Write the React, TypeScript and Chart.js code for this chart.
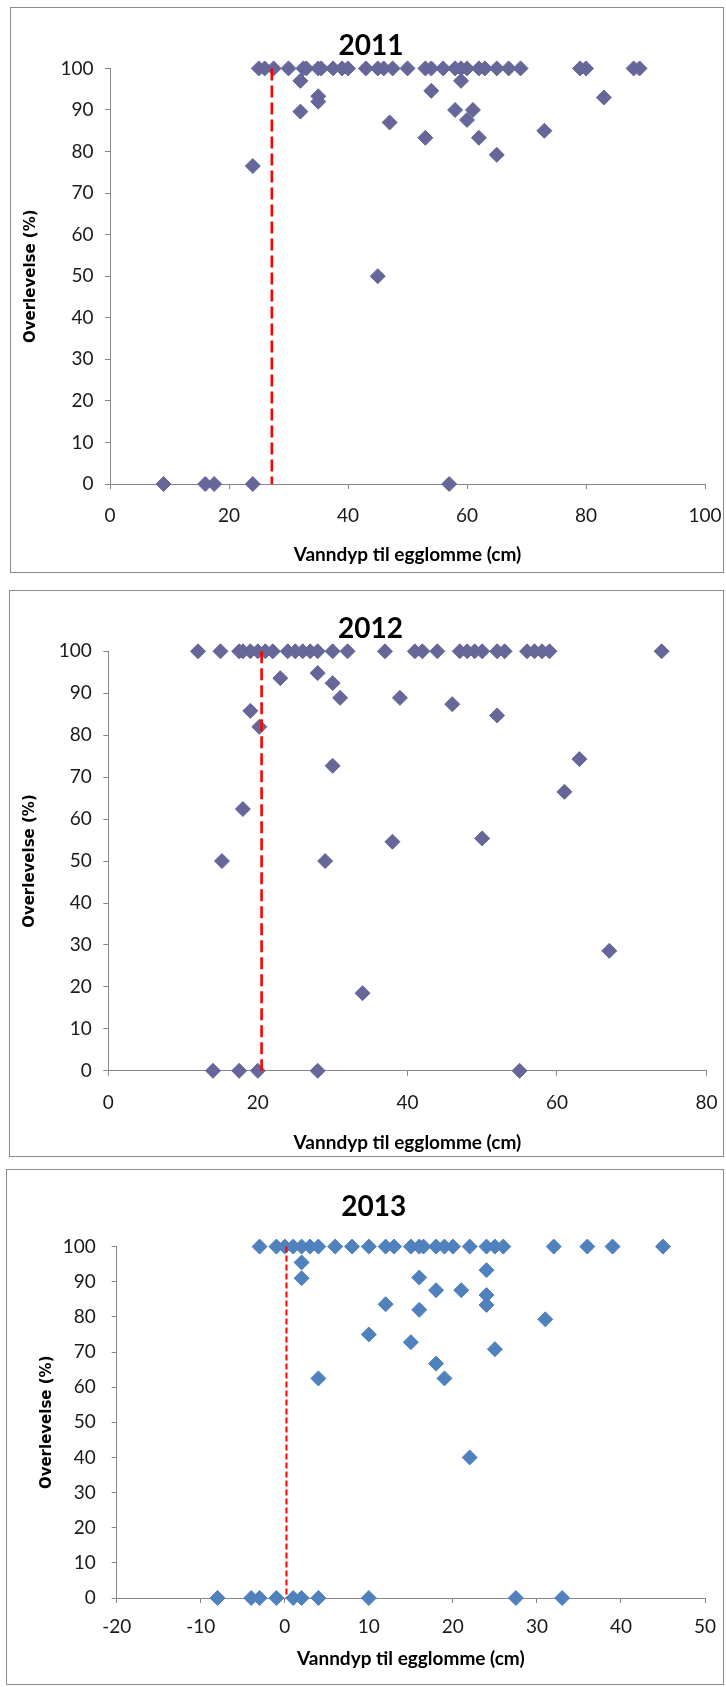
import React, { useEffect, useRef } from "react";
import { Chart, registerables } from "chart.js";

Chart.register(...registerables);

// ---------- DATA ----------
const depth2011 = [
  25, 26, 27.5, 30, 32.5, 33, 35, 35.5, 37.5, 39, 40, 43, 45, 46, 47.5, 50, 53, 54, 56, 58, 59, 60, 62, 63, 65, 67, 69, 79, 80, 88, 89,
  32, 35, 35, 32, 47, 24, 54, 59, 58, 61, 60, 53, 62, 65, 73, 83, 45,
  9, 16, 17.5, 24, 57,
];
const survival2011 = [
  100, 100, 100, 100, 100, 100, 100, 100, 100, 100, 100, 100, 100, 100, 100, 100, 100, 100, 100, 100, 100, 100, 100, 100, 100, 100, 100, 100, 100, 100, 100,
  97, 93.3, 92, 89.6, 87, 76.5, 94.6, 97, 90, 90, 87.6, 83.3, 83.3, 79.2, 85, 93, 50,
  0, 0, 0, 0, 0,
];

const depth2012 = [
  12, 15, 17.5, 18, 19, 20, 21, 22, 24, 25, 26, 27, 28, 30, 32, 37, 41, 42, 44, 47, 48, 49, 50, 52, 53, 56, 57, 58, 59, 74,
  23, 28, 30, 31, 39, 19, 20.2, 30, 18, 15.2, 29, 38, 46, 52, 63, 61, 50, 67, 34,
  14, 17.5, 20, 28, 55,
];
const survival2012 = [
  100, 100, 100, 100, 100, 100, 100, 100, 100, 100, 100, 100, 100, 100, 100, 100, 100, 100, 100, 100, 100, 100, 100, 100, 100, 100, 100, 100, 100, 100,
  93.6, 94.8, 92.4, 88.9, 88.9, 85.8, 82, 72.7, 62.4, 50, 50, 54.6, 87.4, 84.7, 74.3, 66.5, 55.4, 28.6, 18.5,
  0, 0, 0, 0, 0,
];

const depth2013 = [
  -3, -1, 0, 1, 2, 3, 4, 6, 8, 10, 12, 13, 15, 16, 16.5, 18, 19, 20, 22, 24, 25, 26, 32, 36, 39, 45,
  2, 2, 16, 18, 21, 12, 16, 10, 15, 18, 19, 4, 22, 24, 24, 24, 31, 25,
  -8, -4, -3, -1, 1, 2, 4, 10, 27.5, 33,
];
const survival2013 = [
  100, 100, 100, 100, 100, 100, 100, 100, 100, 100, 100, 100, 100, 100, 100, 100, 100, 100, 100, 100, 100, 100, 100, 100, 100, 100,
  95.5, 91, 91.2, 87.6, 87.6, 83.6, 82, 75, 72.8, 66.7, 62.5, 62.5, 40, 93.3, 86.2, 83.4, 79.3, 70.8,
  0, 0, 0, 0, 0, 0, 0, 0, 0, 0,
];

const cutoff2011 = 27.2;
const cutoff2012 = 20.5;
const cutoff2013 = 0.2;

const xAxis2011 = [0, 100, 20]; // min, max, step
const xAxis2012 = [0, 80, 20];
const xAxis2013 = [-20, 50, 10];
const yAxisRange = [0, 100, 10];

const xTitle = "Vanndyp til egglomme (cm)";
const yTitle = "Overlevelse (%)";

// ---------- LAYOUT ----------
type PanelCfg = {
  title: string;
  depth: number[];
  survival: number[];
  cutoff: number;
  xAxis: number[];
  color: string;
  dash: number[];
  dashWidth: number;
  box: { left: number; top: number; width: number; height: number };
  pl: number;
  pr: number;
  yScaleW: number;
  xScaleH: number;
  titlePadTop: number;
  titlePadBottom: number;
  yTitlePad: number;
  xTitlePad: number;
  xTickPad: number;
  yTickPad: number;
};

const panels: PanelCfg[] = [
  {
    title: "2011",
    depth: depth2011,
    survival: survival2011,
    cutoff: cutoff2011,
    xAxis: xAxis2011,
    color: "#666699",
    dash: [12, 5],
    dashWidth: 2.6,
    box: { left: 10, top: 7, width: 714, height: 566 },
    pl: 27,
    pr: 19,
    yScaleW: 73,
    xScaleH: 89,
    titlePadTop: 22,
    titlePadBottom: 5.8,
    yTitlePad: -15,
    xTitlePad: 6.6,
    xTickPad: 15.6,
    yTickPad: 11.5,
  },
  {
    title: "2012",
    depth: depth2012,
    survival: survival2012,
    cutoff: cutoff2012,
    xAxis: xAxis2012,
    color: "#666699",
    dash: [12, 5],
    dashWidth: 2.6,
    box: { left: 9, top: 590, width: 715, height: 567 },
    pl: 25.3,
    pr: 17.5,
    yScaleW: 74,
    xScaleH: 86.2,
    titlePadTop: 22.2,
    titlePadBottom: 5.5,
    yTitlePad: -13.6,
    xTitlePad: 2.6,
    xTickPad: 15.8,
    yTickPad: 11.6,
  },
  {
    title: "2013",
    depth: depth2013,
    survival: survival2013,
    cutoff: cutoff2013,
    xAxis: xAxis2013,
    color: "#4F81BD",
    dash: [6, 3],
    dashWidth: 2,
    box: { left: 6, top: 1169, width: 718, height: 516 },
    pl: 36.6,
    pr: 19,
    yScaleW: 74.1,
    xScaleH: 87,
    titlePadTop: 20.7,
    titlePadBottom: 23.3,
    yTitlePad: -4.3,
    xTitlePad: 15,
    xTickPad: 12.3,
    yTickPad: 15.9,
  },
];

const tickFont = { family: "Lato", size: 19, lineHeight: 1.2 };
const axisGrey = "#868686";

function Panel({ cfg }: { cfg: PanelCfg }) {
  const ref = useRef<HTMLCanvasElement>(null);
  useEffect(() => {
    if (!ref.current) return;
    const points = cfg.depth.map((x, i) => ({ x, y: cfg.survival[i] }));
    const chart = new Chart(ref.current, {
      type: "scatter",
      data: {
        datasets: [
          {
            data: [
              { x: cfg.cutoff, y: yAxisRange[1] },
              { x: cfg.cutoff, y: yAxisRange[0] },
            ],
            showLine: true,
            borderColor: "#FF0000",
            borderWidth: cfg.dashWidth,
            borderDash: cfg.dash,
            pointRadius: 0,
            fill: false,
            clip: false as any,
          } as any,
          {
            data: points,
            pointStyle: "rectRot",
            pointRadius: 7.5,
            pointHoverRadius: 7.5,
            backgroundColor: cfg.color,
            borderColor: cfg.color,
            borderWidth: 1,
            clip: false as any,
          } as any,
        ],
      },
      options: {
        responsive: false,
        maintainAspectRatio: false,
        animation: false,
        events: [],
        layout: { padding: { left: cfg.pl, right: cfg.pr, top: 0, bottom: 0 } },
        plugins: {
          legend: { display: false },
          tooltip: { enabled: false },
          title: {
            display: true,
            text: cfg.title,
            color: "#000",
            font: { family: "Lato", size: 28, weight: "bold", lineHeight: 1.2 },
            padding: { top: cfg.titlePadTop, bottom: cfg.titlePadBottom },
          },
        },
        scales: {
          x: {
            type: "linear",
            min: cfg.xAxis[0],
            max: cfg.xAxis[1],
            ticks: { stepSize: cfg.xAxis[2], padding: cfg.xTickPad, color: "#1a1a1a", font: tickFont, maxRotation: 0, autoSkip: false },
            grid: { drawOnChartArea: false, drawTicks: true, tickLength: 5, color: axisGrey },
            border: { display: true, color: axisGrey, width: 1 },
            title: {
              display: true,
              text: xTitle,
              color: "#000",
              font: { family: "Lato", size: 19, weight: "bold", lineHeight: 1.2 },
              padding: { top: 0, bottom: cfg.xTitlePad },
            },
            afterFit: (s: any) => {
              s.height = cfg.xScaleH;
              s.paddingLeft = 0;
              s.paddingRight = 0;
            },
          },
          y: {
            type: "linear",
            min: yAxisRange[0],
            max: yAxisRange[1],
            ticks: { stepSize: yAxisRange[2], padding: cfg.yTickPad, color: "#1a1a1a", font: tickFont, autoSkip: false },
            grid: { drawOnChartArea: false, drawTicks: true, tickLength: 5, color: axisGrey },
            border: { display: true, color: axisGrey, width: 1 },
            title: {
              display: true,
              text: yTitle,
              color: "#000",
              font: { family: "DejaVu Sans", size: 15, weight: "bold", lineHeight: 1.2 },
              padding: { top: cfg.yTitlePad, bottom: 0 },
            },
            afterFit: (s: any) => {
              s.width = cfg.yScaleW;
              s.paddingTop = 0;
              s.paddingBottom = 0;
            },
          },
        },
      } as any,
    });
    return () => chart.destroy();
  }, [cfg]);

  return (
    <div
      style={{
        position: "absolute",
        left: cfg.box.left,
        top: cfg.box.top,
        width: cfg.box.width,
        height: cfg.box.height,
        border: "1px solid #8c8c8c",
        boxSizing: "border-box",
        background: "#fff",
      }}
    >
      <canvas
        ref={ref}
        width={cfg.box.width}
        height={cfg.box.height}
        style={{ position: "absolute", left: -1, top: -1, width: cfg.box.width, height: cfg.box.height }}
      />
    </div>
  );
}

export default function App() {
  return (
    <div>
      {panels.map((p) => (
        <Panel key={p.title} cfg={p} />
      ))}
    </div>
  );
}
